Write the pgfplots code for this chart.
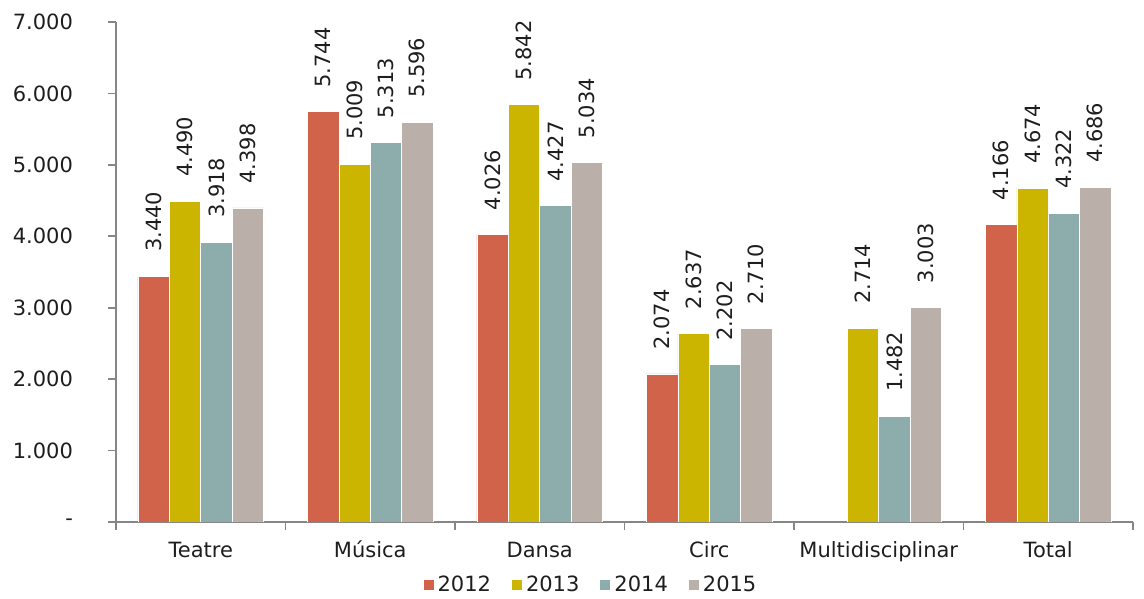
\documentclass[border=0pt]{standalone}
\usepackage{fontspec}
\setmainfont{DejaVu Sans}
\usepackage{pgfplots}
\pgfplotsset{compat=1.18}
\definecolor{c12}{RGB}{209,99,74}
\definecolor{c13}{RGB}{204,181,0}
\definecolor{c14}{RGB}{140,173,172}
\definecolor{c15}{RGB}{186,175,169}
\definecolor{axgray}{RGB}{134,134,134}
\definecolor{txt}{RGB}{30,30,30}
\begin{document}
\begin{tikzpicture}
\begin{axis}[
  scale only axis, width=508.5pt, height=250pt,
  font=\fontsize{10.5}{12}\selectfont, text=txt,
  ybar=0pt, bar width=15.7pt,
  xmin=-0.5, xmax=5.5, ymin=0, ymax=7000,
  axis x line*=bottom, axis y line*=left,
  axis line style={axgray, line width=0.9pt},
  tick style={axgray, line width=0.9pt}, tick align=outside, major tick length=4pt,
  xtick={-0.5,0.5,...,5.5}, x tick label as interval,
  xticklabels={Teatre,Música,Dansa,Circ,Multidisciplinar,Total},
  xticklabel style={yshift=-2pt, text height=8pt, text depth=2pt},
  ytick={0,1000,...,7000},
  yticklabels={-,1.000,2.000,3.000,4.000,5.000,6.000,7.000},
  yticklabel style={xshift=-14pt},
  nodes near coords,
  /pgf/number format/.cd, 1000 sep={.}, fixed, precision=0, assume math mode=true,
  /pgfplots/.cd,
  every node near coord/.append style={yshift=12pt, rotate=90, anchor=west, inner sep=0pt, text=txt},
  legend style={at={(0.468,-0.126)}, anchor=center, draw=none, legend columns=4, inner sep=0pt,
    /tikz/every even column/.append style={column sep=8.5pt}},
  legend image code/.code={\fill[#1, draw=none] (0pt,-2.5pt) rectangle (5pt,2.5pt);},
]
\addplot[fill=c12, draw=white, line width=0.3pt] coordinates {(0,3440) (1,5744) (2,4026) (3,2074) (5,4166)};
\addlegendentry{2012}
\addplot[fill=c13, draw=white, line width=0.3pt] coordinates {(0,4490) (1,5009) (2,5842) (3,2637) (4,2714) (5,4674)};
\addlegendentry{2013}
\addplot[fill=c14, draw=white, line width=0.3pt] coordinates {(0,3918) (1,5313) (2,4427) (3,2202) (4,1482) (5,4322)};
\addlegendentry{2014}
\addplot[fill=c15, draw=white, line width=0.3pt] coordinates {(0,4398) (1,5596) (2,5034) (3,2710) (4,3003) (5,4686)};
\addlegendentry{2015}
\end{axis}
\path ([shift={(-58pt,-36.5pt)}]current axis.south west) rectangle ([shift={(5.5pt,11pt)}]current axis.north east);
\end{tikzpicture}
\end{document}
